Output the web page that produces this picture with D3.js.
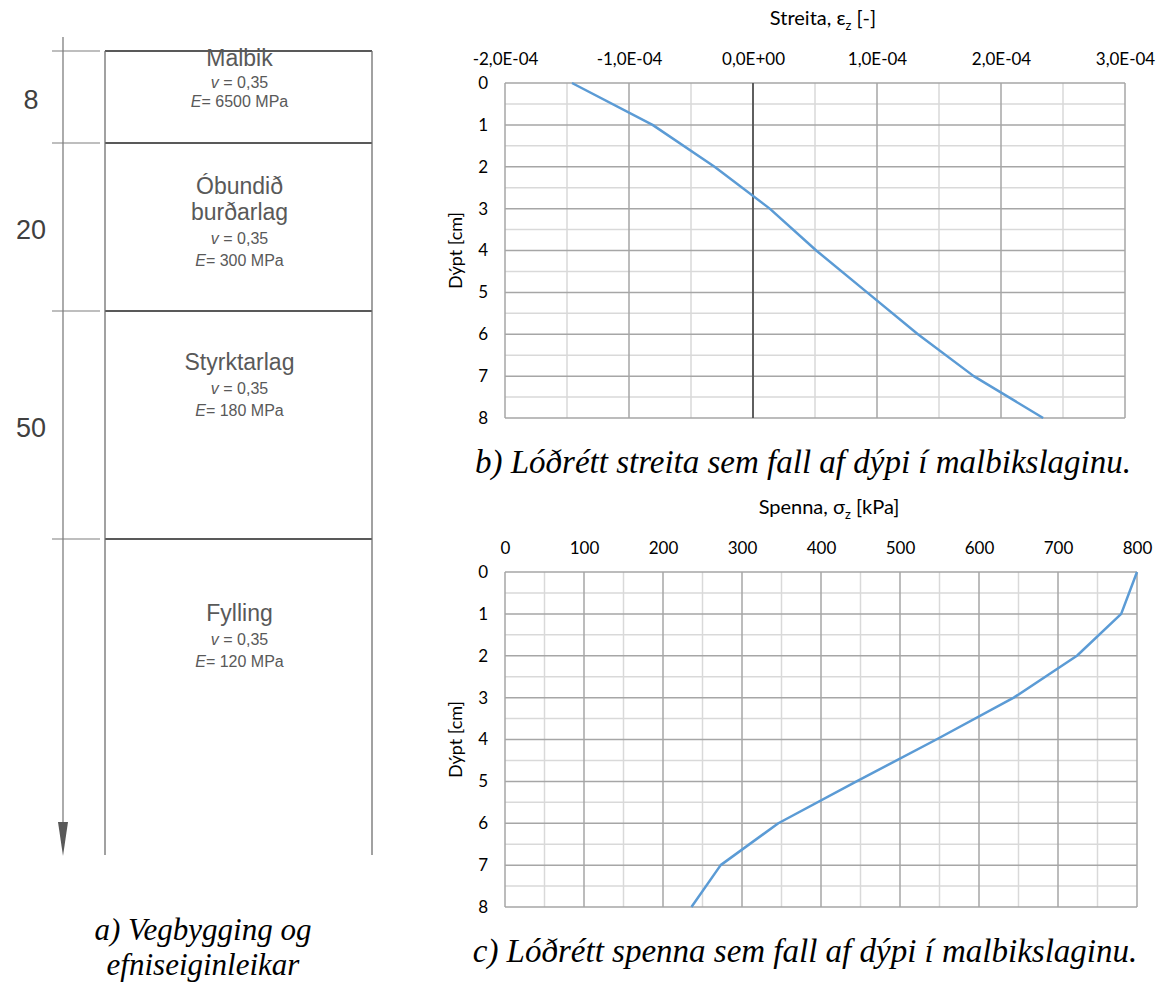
<!DOCTYPE html>
<html>
<head>
<meta charset="utf-8">
<script src="https://cdn.jsdelivr.net/npm/d3@7"></script>
<style>
  body { margin: 0; background: #fff; }
  svg { display: block; }
  .tick text { font-family: Lato, "Open Sans", sans-serif; }
</style>
</head>
<body>
<div id="chart"></div>
<script>
// ---- data ----
const depthCm = [0, 1, 2, 3, 4, 5, 6, 7, 8];
const strainValues = [-1.46e-4, -0.81e-4, -0.31e-4, 0.135e-4, 0.51e-4, 0.92e-4, 1.33e-4, 1.78e-4, 2.34e-4];
const stressValues = [800, 780, 724, 644, 546, 445, 346, 273, 236];

const strainTicks = [-2e-4, -1e-4, 0, 1e-4, 2e-4, 3e-4];
const stressTicks = [0, 100, 200, 300, 400, 500, 600, 700, 800];
const depthTicks = [0, 1, 2, 3, 4, 5, 6, 7, 8];

const layerNames = [['Malbik'], ['Óbundið', 'burðarlag'], ['Styrktarlag'], ['Fylling']];
const layerThickness = ['8', '20', '50', ''];
const layerPoisson = ['0,35', '0,35', '0,35', '0,35'];
const layerModulus = ['6500', '300', '180', '120'];

const captions = {
  a: ['a) Vegbygging og', 'efniseiginleikar'],
  b: 'b) Lóðrétt streita sem fall af dýpi í malbikslaginu.',
  c: 'c) Lóðrétt spenna sem fall af dýpi í malbikslaginu.'
};

// ---- layout ----
const W = 1157, H = 1003;
const BLUE = '#5b9bd5', MAJOR = '#a6a6a6', MINOR = '#d9d9d9';
const LABEL_FONT = 'Lato, "Open Sans", sans-serif';
const SANS = '"Liberation Sans", Arial, sans-serif';

const svg = d3.select('#chart').append('svg').attr('width', W).attr('height', H);

// ---------- panel a: road structure schematic ----------
const bandScale = d3.scaleLinear().domain([0, 1, 2, 3, 4]).range([51, 143, 311, 539, 855]);
const boxX0 = 105, boxX1 = 372, axisX = 63;
const nameOffset = [15, 51, 59, 82];
const pa = svg.append('g');

pa.append('line').attr('x1', axisX).attr('x2', axisX).attr('y1', 37).attr('y2', 830)
  .attr('stroke', '#7f7f7f').attr('stroke-width', 1.3);
pa.append('path').attr('d', `M${axisX - 5},822 L${axisX + 5},822 L${axisX},856 Z`).attr('fill', '#595959');

[0, 1, 2, 3].forEach(i => {
  const yb = bandScale(i);
  pa.append('line').attr('x1', 52).attr('x2', 100).attr('y1', yb).attr('y2', yb)
    .attr('stroke', '#7f7f7f').attr('stroke-width', 1.2);
  pa.append('line').attr('x1', boxX0).attr('x2', boxX1).attr('y1', yb).attr('y2', yb)
    .attr('stroke', '#595959').attr('stroke-width', 2);
});
[boxX0, boxX1].forEach(x => {
  pa.append('line').attr('x1', x).attr('x2', x).attr('y1', bandScale(0)).attr('y2', bandScale(4))
    .attr('stroke', '#6f6f6f').attr('stroke-width', 1.3);
});

layerNames.forEach((names, i) => {
  const top = bandScale(i), bot = bandScale(i + 1);
  const cx = (boxX0 + boxX1) / 2 + 1;
  if (layerThickness[i]) {
    pa.append('text').attr('x', 31).attr('y', (top + bot) / 2 + 3)
      .attr('text-anchor', 'middle').attr('dominant-baseline', 'central')
      .attr('font-family', SANS).attr('font-size', 27)
      .attr('fill', '#404040').text(layerThickness[i]);
  }
  let y = top + nameOffset[i];
  names.forEach((n, k) => {
    if (k > 0) y += 26;
    pa.append('text').attr('x', cx).attr('y', y).attr('text-anchor', 'middle')
      .attr('font-family', SANS).attr('font-size', 23)
      .attr('fill', '#595959').text(n);
  });
  const dv = i === 0 ? 22 : 24, de = i === 0 ? 19 : 22;
  const tv = pa.append('text').attr('x', cx).attr('y', y + dv).attr('text-anchor', 'middle')
    .attr('font-family', SANS).attr('font-size', 16).attr('fill', '#595959');
  tv.append('tspan').attr('font-style', 'italic').text('v');
  tv.append('tspan').text(' = ' + layerPoisson[i]);
  const te = pa.append('text').attr('x', cx).attr('y', y + dv + de).attr('text-anchor', 'middle')
    .attr('font-family', SANS).attr('font-size', 16).attr('fill', '#595959');
  te.append('tspan').attr('font-style', 'italic').text('E');
  te.append('tspan').text('= ' + layerModulus[i] + ' MPa');
});

// ---------- profile charts ----------
function sciFormat(v) {
  if (v === 0) return '0,0E+00';
  const [m, e] = v.toExponential(1).split('e');
  const ex = +e;
  return m.replace('.', ',') + 'E' + (ex < 0 ? '-' : '+') + String(Math.abs(ex)).padStart(2, '0');
}

function profileChart({ left, right, top, bottom, xDomain, xTicks, minorStep, values, fmt, title, sub, unit, zeroLine }) {
  const g = svg.append('g');
  const x = d3.scaleLinear().domain(xDomain).range([left, right]);
  const y = d3.scaleLinear().domain([0, 8]).range([top, bottom]);

  // minor grid
  d3.range(0, 8.01, 0.5).filter(d => d % 1 !== 0).forEach(d => {
    g.append('line').attr('x1', left).attr('x2', right).attr('y1', y(d)).attr('y2', y(d))
      .attr('stroke', MINOR).attr('stroke-width', 1.5);
  });
  d3.range(xDomain[0], xDomain[1] + minorStep / 2, minorStep).forEach(d => {
    const isMajor = xTicks.some(t => Math.abs(t - d) < minorStep / 10);
    if (!isMajor) g.append('line').attr('x1', x(d)).attr('x2', x(d)).attr('y1', top).attr('y2', bottom)
      .attr('stroke', MINOR).attr('stroke-width', 1.5);
  });
  // major grid
  depthTicks.forEach(d => {
    g.append('line').attr('x1', left).attr('x2', right).attr('y1', y(d)).attr('y2', y(d))
      .attr('stroke', MAJOR).attr('stroke-width', 1.5);
  });
  xTicks.forEach(d => {
    g.append('line').attr('x1', x(d)).attr('x2', x(d)).attr('y1', top).attr('y2', bottom)
      .attr('stroke', MAJOR).attr('stroke-width', 1.5);
  });
  if (zeroLine) {
    g.append('line').attr('x1', x(0)).attr('x2', x(0)).attr('y1', top).attr('y2', bottom)
      .attr('stroke', '#404040').attr('stroke-width', 1.5);
  }

  // axes
  const xa = g.append('g').attr('transform', `translate(0,${top})`)
    .call(d3.axisTop(x).tickValues(xTicks).tickFormat(fmt).tickSize(0).tickPadding(18));
  xa.select('.domain').remove();
  xa.selectAll('text').attr('font-size', 17).attr('fill', '#000');

  const ya = g.append('g').attr('transform', `translate(${left},0)`)
    .call(d3.axisLeft(y).tickValues(depthTicks).tickFormat(d3.format('d')).tickSize(0).tickPadding(17));
  ya.select('.domain').remove();
  ya.selectAll('text').attr('font-size', 17).attr('fill', '#000');

  // line
  const line = d3.line().x((d, i) => x(values[i])).y(d => y(d));
  g.append('path').datum(depthCm).attr('d', line).attr('fill', 'none')
    .attr('stroke', BLUE).attr('stroke-width', 2.5).attr('stroke-linejoin', 'round');

  // titles
  const t = g.append('text').attr('x', (left + right) / 2 + 8).attr('y', top - 58)
    .attr('text-anchor', 'middle').attr('font-family', LABEL_FONT).attr('font-size', 20).attr('fill', '#000');
  t.append('tspan').text(title);
  t.append('tspan').attr('font-size', 13).attr('dy', 5).text(sub);
  t.append('tspan').attr('dy', -5).text(' ' + unit);

  g.append('text').attr('transform', `translate(${left - 43},${(top + bottom) / 2}) rotate(-90)`)
    .attr('text-anchor', 'middle').attr('font-family', LABEL_FONT).attr('font-size', 18)
    .attr('fill', '#000').text('Dýpt [cm]');
}

profileChart({ left: 505, right: 1125, top: 83, bottom: 418, xDomain: [-2e-4, 3e-4], xTicks: strainTicks,
  minorStep: 0.5e-4, values: strainValues, fmt: sciFormat, title: 'Streita, ε', sub: 'z', unit: '[-]', zeroLine: true });
profileChart({ left: 505, right: 1137, top: 572, bottom: 907, xDomain: [0, 800], xTicks: stressTicks,
  minorStep: 50, values: stressValues, fmt: d3.format('d'), title: 'Spenna, σ', sub: 'z', unit: '[kPa]', zeroLine: false });

// ---------- captions ----------
const capFont = '"Liberation Serif", "Times New Roman", serif';
svg.append('text').attr('x', 803).attr('y', 473).attr('text-anchor', 'middle')
  .attr('font-family', capFont).attr('font-style', 'italic').attr('font-size', 33).text(captions.b);
svg.append('text').attr('x', 805).attr('y', 962).attr('text-anchor', 'middle')
  .attr('font-family', capFont).attr('font-style', 'italic').attr('font-size', 33).text(captions.c);
captions.a.forEach((c, i) => {
  svg.append('text').attr('x', 203).attr('y', 940 + i * 35).attr('text-anchor', 'middle')
    .attr('font-family', capFont).attr('font-style', 'italic').attr('font-size', 31).text(c);
});
</script>
</body>
</html>
